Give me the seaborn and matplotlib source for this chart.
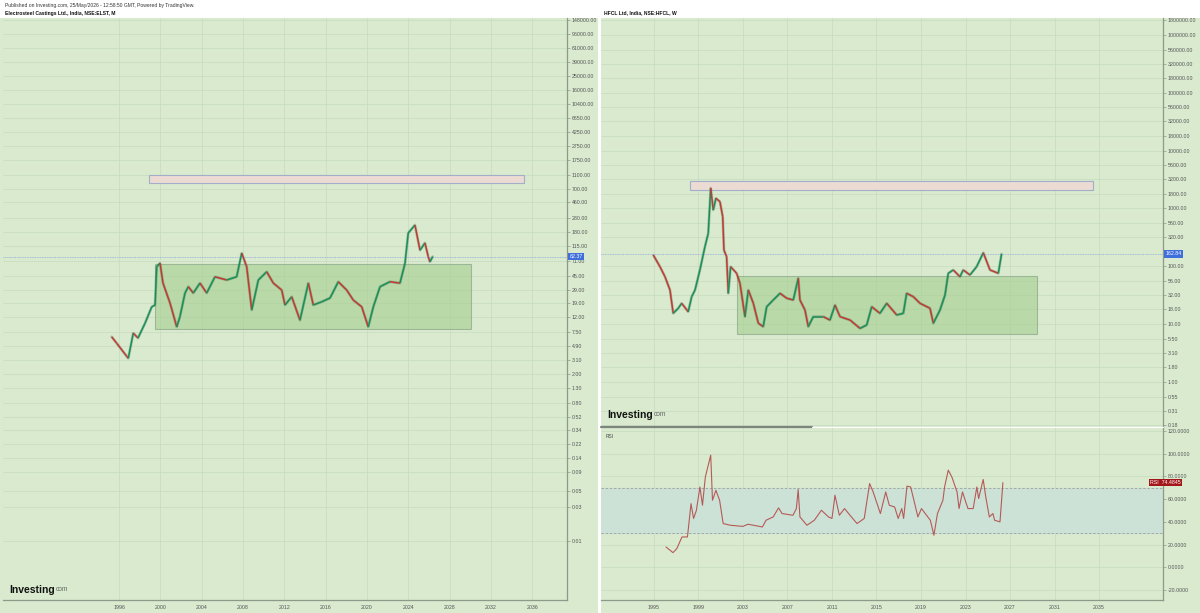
import matplotlib
matplotlib.use("Agg")
import matplotlib.pyplot as plt
import seaborn as sns
import numpy as np
import pandas as pd
from matplotlib.patches import Rectangle
from matplotlib.collections import LineCollection
from matplotlib.lines import Line2D
from matplotlib.ticker import FixedLocator, FixedFormatter, NullLocator

# --- data ----------------------------------------------------------------
# Electrosteel Castings (monthly), traced turning points: year, close
elst_years = [1995.29, 1995.78, 1996.75, 1996.90, 1997.38, 1997.84, 1998.52, 1999.17,
              1999.49, 1999.65, 1999.97, 2000.26, 2000.94, 2001.59, 2001.90, 2002.39,
              2002.71, 2003.19, 2003.84, 2004.49, 2005.29, 2006.43, 2007.39, 2007.88,
              2008.36, 2008.85, 2009.49, 2010.30, 2010.94, 2011.75, 2012.07, 2012.72,
              2013.52, 2014.33, 2014.81, 2015.62, 2016.43, 2017.23, 2018.04, 2018.68,
              2019.50, 2020.13, 2020.62, 2021.27, 2022.23, 2023.20, 2023.69, 2024.00,
              2024.65, 2025.14, 2025.62, 2025.94, 2026.10, 2026.37]
elst_close = [6.5, 5.3, 3.5, 3.3, 7.3, 6.25, 10.0, 16.8,
              17.8, 60.0, 67.0, 35.6, 18.9, 8.9, 12.3, 26.0,
              31.8, 26.0, 35.6, 26.0, 43.5, 39.3, 43.5, 92.0,
              60.0, 15.2, 39.3, 51.0, 35.6, 28.6, 17.8, 23.1,
              11.0, 35.6, 17.8, 19.7, 22.2, 37.2, 28.6, 20.8,
              16.8, 8.9, 16.8, 31.8, 37.2, 35.6, 67.0, 174.0,
              224.0, 101.0, 127.0, 82.0, 70.0, 82.37]
elst_last = 82.37
elst_green_box = (1999.5, 2030.1, 8.3, 65.0)      # x0, x1, y0, y1
elst_pink_box = (1998.9, 2035.2, 850.0, 1100.0)
elst_xticks = [1996, 2000, 2004, 2008, 2012, 2016, 2020, 2024, 2028, 2032, 2036]
elst_yticks = [148000, 96000, 61000, 39000, 25000, 16000, 10400, 6650, 4250, 2750,
               1750, 1100, 700, 460, 280, 180, 115, 71, 45, 29, 19, 12, 7.5, 4.9,
               3.1, 2.0, 1.3, 0.8, 0.52, 0.34, 0.22, 0.14, 0.09, 0.05, 0.03, 0.01]

# HFCL (weekly), traced turning points
hfcl_years = [1994.94, 1995.54, 1995.99, 1996.44, 1996.73, 1997.18, 1997.49, 1998.08,
              1998.39, 1998.69, 1999.13, 1999.58, 1999.88, 2000.10, 2000.33, 2000.57,
              2000.93, 2001.18, 2001.29, 2001.53, 2001.68, 2001.89, 2002.43, 2002.73,
              2003.18, 2003.48, 2003.93, 2004.38, 2004.82, 2005.13, 2005.72, 2006.33,
              2006.93, 2007.52, 2007.97, 2008.12, 2008.57, 2008.87, 2009.32, 2010.22,
              2010.82, 2011.27, 2011.72, 2012.62, 2013.52, 2014.12, 2014.57, 2015.31,
              2015.92, 2016.82, 2017.41, 2017.71, 2018.31, 2018.91, 2019.81, 2020.11,
              2020.71, 2021.16, 2021.45, 2021.90, 2022.50, 2022.80, 2023.40, 2024.00,
              2024.60, 2025.20, 2025.95, 2026.24]
hfcl_close = [156, 98, 65.8, 38.7, 15.3, 18.7, 22.8, 16.3,
              29.7, 38.7, 86, 217, 371, 2250, 938, 1496,
              1306, 718, 190, 146, 34, 98, 75.4, 50.6,
              13.4, 38.7, 22.8, 10.3, 9.0, 19.9, 26, 34,
              27.9, 26, 61.8, 26, 17.5, 9.0, 13.4, 13.4,
              11.7, 21.3, 13.4, 11.7, 8.4, 9.6, 19.9, 15.3,
              22.8, 14.3, 15.3, 34, 29.7, 22.8, 18.7, 10.3,
              17.5, 31.8, 75.4, 86, 65.8, 86, 70.5, 98,
              171, 86, 75.4, 162.84]
hfcl_last = 162.84
hfcl_green_box = (2002.5, 2029.4, 6.7, 67.6)
hfcl_pink_box = (1998.2, 2034.5, 2080.0, 2980.0)
hfcl_xticks = [1995, 1999, 2003, 2007, 2011, 2015, 2019, 2023, 2027, 2031, 2035]
hfcl_yticks = [1800000, 1000000, 560000, 320000, 180000, 100000, 56000, 32000, 18000,
               10000, 5600, 3200, 1800, 1000, 560, 320, 100, 56, 32, 18, 10, 5.5,
               3.1, 1.8, 1.0, 0.55, 0.31, 0.18]

# HFCL RSI
rsi_years = [1996.08, 1996.71, 1997.05, 1997.52, 1998.01, 1998.33, 1998.56, 1998.81,
             1999.13, 1999.36, 1999.62, 2000.10, 2000.26, 2000.57, 2000.90, 2001.22,
             2001.87, 2002.99, 2003.45, 2004.75, 2005.07, 2005.71, 2006.20, 2006.51,
             2007.49, 2007.80, 2007.96, 2008.12, 2008.75, 2009.41, 2010.05, 2010.69,
             2011.00, 2011.27, 2011.66, 2012.13, 2012.62, 2013.25, 2013.90, 2014.38,
             2014.70, 2015.35, 2015.83, 2016.15, 2016.63, 2016.95, 2017.27, 2017.44,
             2017.74, 2018.07, 2018.40, 2018.72, 2019.04, 2019.84, 2020.16, 2020.48,
             2020.97, 2021.12, 2021.45, 2021.77, 2022.24, 2022.42, 2022.73, 2023.22,
             2023.69, 2024.02, 2024.18, 2024.59, 2024.82, 2025.14, 2025.46, 2025.62,
             2026.10, 2026.36]
rsi_vals = [17.9, 12.9, 16.4, 26.7, 26.7, 56.0, 43.0, 50.0,
            70.7, 54.6, 79.6, 98.7, 59.0, 67.8, 59.0, 38.5,
            37.0, 36.0, 37.9, 35.5, 41.4, 44.3, 52.3, 47.3,
            45.8, 51.7, 68.5, 44.3, 37.0, 41.4, 50.2, 44.3,
            43.0, 63.4, 45.8, 51.7, 45.8, 38.5, 43.0, 73.7,
            66.3, 47.3, 66.3, 54.6, 53.1, 43.0, 51.7, 43.0,
            71.4, 70.7, 57.5, 44.3, 51.7, 41.4, 28.2, 47.3,
            59.0, 70.7, 85.5, 79.6, 66.3, 51.7, 66.3, 51.7,
            51.7, 70.7, 60.5, 77.3, 62.0, 44.3, 47.3, 41.4,
            40.0, 74.4845]
rsi_last = 74.4845
rsi_band = (30, 70)
rsi_yticks = [120, 100, 80, 60, 40, 20, 0, -20]

# --- style ---------------------------------------------------------------
W, H = 1200, 613
BG = "#d9eacf"
GRID = "#c6dbbf"
SPINE = "#8c9a8a"
UP = "#16915a"
DOWN = "#c23a32"
TXT = "#555555"

sns.set_theme(style="white")
plt.rcParams["font.family"] = ["Liberation Sans", "DejaVu Sans"]


def px_box(x0, y0, x1, y1):
    return [x0 / W, 1 - y1 / H, (x1 - x0) / W, (y1 - y0) / H]


def style_axis(ax):
    ax.set_facecolor(BG)
    for s in ["top", "left"]:
        ax.spines[s].set_visible(False)
    for s in ["right", "bottom"]:
        ax.spines[s].set_color(SPINE)
        ax.spines[s].set_linewidth(0.9)
    ax.yaxis.tick_right()
    ax.tick_params(axis="both", length=2, width=0.5, color=SPINE,
                   labelsize=3.8, labelcolor=TXT, pad=1.5)
    ax.grid(True, color=GRID, lw=0.5)
    ax.set_axisbelow(True)
    ax.set_xlabel("")
    ax.set_ylabel("")


def draw_price(ax, years, closes):
    df = pd.DataFrame({"year": years, "close": closes})
    sns.lineplot(data=df, x="year", y="close", ax=ax, sort=False,
                 color="#3d5a44", lw=2.0, alpha=0.3, zorder=3)
    pts = np.column_stack([years, closes])
    segs = np.stack([pts[:-1], pts[1:]], axis=1)
    cols = np.where(np.diff(closes) >= 0, UP, DOWN)
    ax.add_collection(LineCollection(segs, colors=cols, lw=1.1, zorder=4))


def add_box(ax, box, fc, ec, alpha):
    x0, x1, y0, y1 = box
    ax.add_patch(Rectangle((x0, y0), x1 - x0, y1 - y0, fc=fc, ec=ec,
                           lw=0.8, alpha=alpha, zorder=2))


def log_ticks(ax, ticks):
    ax.yaxis.set_major_locator(FixedLocator(ticks))
    ax.yaxis.set_major_formatter(FixedFormatter([f"{t:.2f}" for t in ticks]))
    ax.yaxis.set_minor_locator(NullLocator())


def price_label(ax, value, text):
    ax.axhline(value, color="#8ea7dc", lw=0.6, ls=(0, (1, 1)), zorder=3)
    ax.text(1.004, value, text, transform=ax.get_yaxis_transform(),
            ha="left", va="center", fontsize=3.8, color="white", zorder=10,
            bbox=dict(boxstyle="square,pad=0.25", fc="#3f6fdc", ec="none"),
            clip_on=False)


def logo(ax, x, y):
    t = ax.text(x, y, "Investing", transform=ax.transAxes, fontsize=7.5,
                fontweight="bold", color="#111111", va="center", ha="left", zorder=10)
    ax.annotate("com", xy=(1, 0.18), xycoords=t, xytext=(0.6, 0),
                textcoords="offset points", fontsize=4.8, color="#666666",
                va="bottom", ha="left", annotation_clip=False, zorder=10)


fig = plt.figure(figsize=(W / 100, H / 100), dpi=100)
fig.patch.set_facecolor("white")
for x0, x1 in [(0, 598), (601, 1200)]:
    fig.add_artist(Rectangle((x0 / W, 0), (x1 - x0) / W, 1 - 18 / H,
                             transform=fig.transFigure, fc=BG, ec="none", zorder=0))

ax_l = fig.add_axes(px_box(3, 18, 567, 600))
ax_r = fig.add_axes(px_box(601, 18, 1163, 427))
ax_rsi = fig.add_axes(px_box(601, 427, 1163, 600))

# --- left: ELST ----------------------------------------------------------
ax_l.set_yscale("log")
add_box(ax_l, elst_pink_box, "#ecdbd2", "#a3aecb", 1.0)
add_box(ax_l, elst_green_box, "#a5cf8f", "#7f9c80", 0.6)
draw_price(ax_l, elst_years, elst_close)
style_axis(ax_l)
log_ticks(ax_l, elst_yticks)
ax_l.set_xticks(elst_xticks)
ax_l.set_xticklabels([str(y) for y in elst_xticks])
ax_l.set_xlim(1984.77, 2039.37)
ax_l.set_ylim(10 ** -2.807, 10 ** 5.198)
price_label(ax_l, elst_last, f"{elst_last:.2f}")
logo(ax_l, (9 - 3) / 564, (600 - 590) / 582)

# --- right: HFCL ---------------------------------------------------------
ax_r.set_yscale("log")
add_box(ax_r, hfcl_pink_box, "#ecdbd2", "#a3aecb", 1.0)
add_box(ax_r, hfcl_green_box, "#a5cf8f", "#7f9c80", 0.6)
draw_price(ax_r, hfcl_years, hfcl_close)
style_axis(ax_r)
log_ticks(ax_r, [t for t in hfcl_yticks if t != 180])
ax_r.set_xticks(hfcl_xticks)
ax_r.tick_params(axis="x", labelbottom=False, length=0)
ax_r.spines["bottom"].set_visible(False)
ax_r.set_xlim(1990.24, 2040.75)
ax_r.set_ylim(10 ** -0.782, 10 ** 6.294)
price_label(ax_r, hfcl_last, f"{hfcl_last:.2f}")
logo(ax_r, (607 - 601) / 562, (427 - 415) / 409)

# --- RSI -----------------------------------------------------------------
ax_rsi.axhspan(*rsi_band, color="#cde2d6", zorder=1)
for lvl in rsi_band:
    ax_rsi.axhline(lvl, color="#9aa39c", lw=0.6, ls=(0, (3, 2)), zorder=2)
sns.lineplot(x=rsi_years, y=rsi_vals, ax=ax_rsi, color="#b55a58", lw=0.8, zorder=4)
style_axis(ax_rsi)
ax_rsi.set_yticks(rsi_yticks)
ax_rsi.set_yticklabels([f"{v:.4f}" for v in rsi_yticks])
ax_rsi.set_xticks(hfcl_xticks)
ax_rsi.set_xticklabels([str(y) for y in hfcl_xticks])
ax_rsi.set_xlim(1990.24, 2040.75)
ax_rsi.set_ylim(-28.8, 123.5)
ax_rsi.text(0.008, 0.96, "RSI", transform=ax_rsi.transAxes, fontsize=3.5,
            color="#444444", va="top", ha="left")
ax_rsi.text((1150 - 601) / 562, rsi_last, f"RSI  {rsi_last:.4f}",
            transform=ax_rsi.get_yaxis_transform(), ha="left", va="center",
            fontsize=3.8, color="white", zorder=10, clip_on=False,
            bbox=dict(boxstyle="square,pad=0.25", fc="#a3161a", ec="none"))

# pane splitter
fig.add_artist(Line2D([601 / W, 812 / W], [1 - 426.5 / H] * 2, color="#7d857d",
                      lw=1.6, transform=fig.transFigure, zorder=5))
fig.add_artist(Line2D([812 / W, 1163 / W], [1 - 426.5 / H] * 2, color="white",
                      lw=0.8, transform=fig.transFigure, zorder=5))

# --- headers -------------------------------------------------------------
fig.text(5 / W, 1 - 5 / H, "Published on Investing.com, 25/May/2026 - 12:58:50 GMT, Powered by TradingView.",
         fontsize=3.6, color="#333333", va="center", ha="left")
fig.text(5 / W, 1 - 13 / H, "Electrosteel Castings Ltd., India, NSE:ELST, M",
         fontsize=3.6, color="#111111", fontweight="bold", va="center", ha="left")
fig.text(604 / W, 1 - 13 / H, "HFCL Ltd, India, NSE:HFCL, W",
         fontsize=3.6, color="#111111", fontweight="bold", va="center", ha="left")

fig.savefig("out.png", dpi=100, facecolor=fig.get_facecolor())
